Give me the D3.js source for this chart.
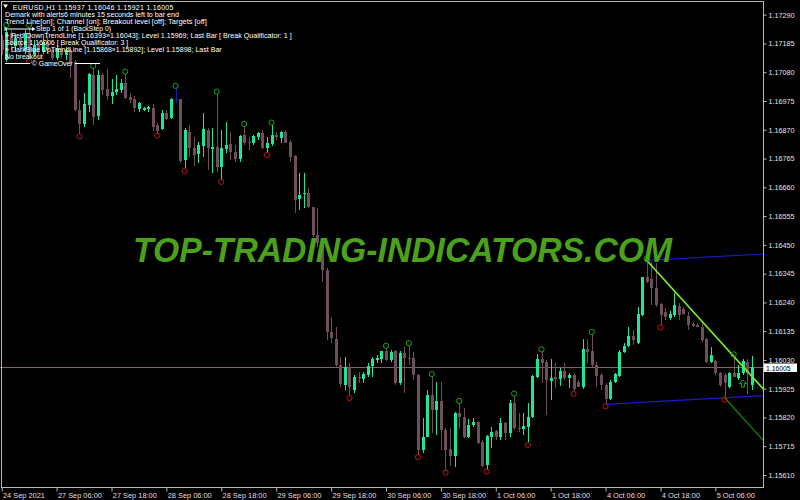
<!DOCTYPE html>
<html>
<head>
<meta charset="utf-8">
<script src="https://cdn.jsdelivr.net/npm/d3@7"></script>
<style>
body { margin: 0; background: #000; }
svg { display: block; }
text { font-family: "Liberation Sans", Arial, sans-serif; }
</style>
</head>
<body>
<script>
var width = 800, height = 500;

// EURUSD H1, bar 0 = 24 Sep 2021 18:00, last bar = 5 Oct 14:00
var open = [
1.17198,1.17125,1.17223,1.17176,1.17205,1.17161,1.17223,1.17143,1.17179,1.17154,
1.17190,1.17161,1.17132,1.17169,1.17143,1.17161,1.17117,1.16942,1.16891,1.16960,
1.17070,1.16920,1.17070,1.17018,1.16994,1.17008,1.17015,1.17042,1.16989,1.16981,
1.16945,1.16942,1.16946,1.16951,1.16887,1.16872,1.16932,1.16912,1.16981,1.16981,
1.16760,1.16863,1.16802,1.16782,1.16811,1.16869,1.16799,1.16806,1.16733,1.16799,
1.16818,1.16790,1.16762,1.16851,1.16827,1.16821,1.16845,1.16857,1.16802,1.16818,
1.16851,1.16839,1.16863,1.16827,1.16774,1.16616,1.16635,1.16640,1.16587,1.16486,
1.16456,1.16358,1.16133,1.16105,1.16011,1.15938,1.16005,1.15920,1.15969,1.15960,
1.15975,1.16008,1.16030,1.16032,1.16063,1.16030,1.16063,1.15945,1.16056,1.16036,
1.16036,1.15975,1.15701,1.15750,1.15902,1.15847,1.15880,1.15774,1.15704,1.15679,
1.15837,1.15823,1.15748,1.15792,1.15804,1.15732,1.15646,1.15750,1.15771,1.15748,
1.15799,1.15764,1.15872,1.15783,1.15777,1.15784,1.15823,1.15969,1.16032,1.16023,
1.15954,1.15967,1.15959,1.15990,1.15963,1.15975,1.15950,1.15932,1.16069,1.16064,
1.16011,1.15975,1.15938,1.15886,1.15950,1.15971,1.16060,1.16081,1.16117,1.16091,
1.16194,1.16332,1.16324,1.16291,1.16234,1.16206,1.16182,1.16194,1.16227,1.16215,
1.16190,1.16161,1.16157,1.16149,1.16105,1.16023,1.16027,1.15981,1.15975,1.15932,
1.15983,1.15963,1.15981,1.16023,1.15937];
var high = [
1.17216,1.17245,1.17234,1.17216,1.17223,1.17234,1.17245,1.17198,1.17190,1.17205,
1.17212,1.17172,1.17179,1.17183,1.17172,1.17169,1.17125,1.16979,1.17005,1.17078,
1.17096,1.17088,1.17077,1.17092,1.17054,1.17070,1.17054,1.17075,1.17003,1.16993,
1.16972,1.16954,1.16957,1.16964,1.16894,1.16942,1.16942,1.16985,1.17023,1.16984,
1.16875,1.16887,1.16845,1.16827,1.16930,1.16875,1.16875,1.17002,1.16869,1.16899,
1.16863,1.16814,1.16851,1.16884,1.16843,1.16851,1.16863,1.16869,1.16845,1.16889,
1.16863,1.16867,1.16869,1.16833,1.16778,1.16713,1.16711,1.16656,1.16589,1.16583,
1.16468,1.16364,1.16188,1.16151,1.16042,1.16042,1.16018,1.15975,1.15987,1.15987,
1.16018,1.16042,1.16048,1.16064,1.16074,1.16066,1.16068,1.16063,1.16077,1.16084,
1.16060,1.15979,1.15817,1.15920,1.15971,1.15950,1.15949,1.15781,1.15780,1.15841,
1.15873,1.15853,1.15813,1.15817,1.15808,1.15738,1.15756,1.15786,1.15774,1.15817,
1.15804,1.15884,1.15900,1.15835,1.15835,1.15872,1.15975,1.16052,1.16061,1.16030,
1.16032,1.16018,1.15999,1.16018,1.15983,1.15979,1.15957,1.16105,1.16105,1.16125,
1.16023,1.15981,1.15945,1.15957,1.15983,1.16066,1.16091,1.16151,1.16139,1.16224,
1.16334,1.16393,1.16387,1.16384,1.16237,1.16218,1.16210,1.16273,1.16237,1.16224,
1.16206,1.16169,1.16164,1.16169,1.16109,1.16076,1.16030,1.15987,1.15983,1.15987,
1.16043,1.16011,1.16033,1.16033,1.16046];
var low = [
1.17143,1.17117,1.17161,1.17154,1.17154,1.17147,1.17128,1.17136,1.17139,1.17147,
1.17147,1.17125,1.17125,1.17132,1.17125,1.17059,1.16939,1.16853,1.16881,1.16936,
1.16887,1.16906,1.16997,1.16979,1.16963,1.16997,1.17005,1.16981,1.16969,1.16936,
1.16936,1.16939,1.16936,1.16866,1.16856,1.16869,1.16906,1.16908,1.16967,1.16748,
1.16727,1.16772,1.16738,1.16748,1.16772,1.16723,1.16711,1.16717,1.16687,1.16784,
1.16760,1.16754,1.16754,1.16814,1.16796,1.16814,1.16833,1.16799,1.16785,1.16811,
1.16833,1.16821,1.16821,1.16754,1.16565,1.16577,1.16583,1.16583,1.16480,1.16443,
1.16316,1.16103,1.16091,1.16005,1.15930,1.15920,1.15898,1.15909,1.15945,1.15947,
1.15969,1.15969,1.16018,1.16018,1.16026,1.16022,1.15938,1.15938,1.15908,1.16011,
1.15957,1.15683,1.15690,1.15748,1.15762,1.15756,1.15701,1.15626,1.15643,1.15639,
1.15780,1.15744,1.15744,1.15786,1.15723,1.15641,1.15630,1.15707,1.15738,1.15738,
1.15738,1.15750,1.15774,1.15768,1.15756,1.15727,1.15817,1.15963,1.15945,1.15829,
1.15884,1.15926,1.15935,1.15957,1.15928,1.15913,1.15930,1.15924,1.16018,1.16005,
1.15932,1.15920,1.15868,1.15884,1.15945,1.15969,1.16054,1.16078,1.16084,1.16088,
1.16190,1.16310,1.16230,1.16224,1.16156,1.16176,1.16176,1.16188,1.16176,1.16194,
1.16139,1.16149,1.16149,1.16096,1.16018,1.16020,1.15975,1.15932,1.15892,1.15926,
1.15967,1.15957,1.15975,1.15906,1.15921];
var close = [
1.17161,1.17227,1.17179,1.17205,1.17169,1.17223,1.17143,1.17179,1.17154,1.17190,
1.17161,1.17132,1.17169,1.17143,1.17161,1.17117,1.16942,1.16891,1.16964,1.17074,
1.16918,1.17070,1.17015,1.16994,1.17009,1.17018,1.17042,1.16985,1.16979,1.16948,
1.16969,1.16951,1.16954,1.16881,1.16867,1.16930,1.16910,1.16982,1.16981,1.16757,
1.16869,1.16802,1.16778,1.16814,1.16872,1.16802,1.16806,1.16733,1.16802,1.16814,
1.16790,1.16762,1.16847,1.16823,1.16821,1.16847,1.16857,1.16802,1.16821,1.16851,
1.16843,1.16863,1.16823,1.16772,1.16614,1.16632,1.16640,1.16587,1.16486,1.16456,
1.16358,1.16133,1.16109,1.16011,1.15942,1.16005,1.15932,1.15967,1.15963,1.15979,
1.16008,1.16032,1.16038,1.16063,1.16030,1.16059,1.15945,1.16054,1.16036,1.16033,
1.15975,1.15701,1.15750,1.15902,1.15847,1.15880,1.15774,1.15701,1.15679,1.15837,
1.15823,1.15750,1.15792,1.15804,1.15726,1.15644,1.15752,1.15768,1.15750,1.15801,
1.15764,1.15874,1.15780,1.15778,1.15789,1.15823,1.15971,1.16032,1.16020,1.15957,
1.15963,1.15959,1.15990,1.15963,1.15975,1.15923,1.15932,1.16069,1.16060,1.16011,
1.15971,1.15938,1.15886,1.15950,1.15977,1.16060,1.16081,1.16117,1.16103,1.16198,
1.16332,1.16316,1.16291,1.16230,1.16194,1.16188,1.16198,1.16230,1.16194,1.16198,
1.16157,1.16154,1.16151,1.16103,1.16023,1.16048,1.15981,1.15938,1.15945,1.15983,
1.15969,1.15983,1.16026,1.15981,1.16005];

// fractal bars (Demark points)
var fractalUp = [1, 6, 20, 27, 38, 47, 53, 59, 84, 89, 94, 100, 112, 118, 129, 141, 160];
var fractalDown = [6, 17, 34, 40, 48, 58, 76, 91, 97, 106, 115, 125, 132, 144, 158];

// trend lines: anchor bars and prices
var downBars = [141, 160], downPrices = [1.16393, 1.16043];
var upBars = [132, 158], upPrices = [1.15868, 1.15892];
var arrowBar = 162;
var bid = 1.16005;

var tickBars = [0, 12, 24, 36, 48, 60, 72, 84, 96, 108, 120, 132, 144, 156];
var tickLabels = ["24 Sep 2021", "27 Sep 06:00", "27 Sep 18:00", "28 Sep 06:00", "28 Sep 18:00",
  "29 Sep 06:00", "29 Sep 18:00", "30 Sep 06:00", "30 Sep 18:00", "1 Oct 06:00",
  "1 Oct 18:00", "4 Oct 06:00", "4 Oct 18:00", "5 Oct 06:00"];
var priceTicks = [1.15610, 1.15715, 1.15820, 1.15925, 1.16030, 1.16135, 1.16240, 1.16345,
  1.16450, 1.16555, 1.16660, 1.16765, 1.16870, 1.16975, 1.17080, 1.17185, 1.17290];

var infoLines = [
  "Demark with alerts6 minutes 15 seconds left to bar end",
  "Trend Line[on]; Channel [on]; Breakout level [off]; Targets [off]",
  "Step 1 of 1 (BackStep 0)",
  "» Red DownTrendLine [1.16393»1.16043]; Level 1.15969; Last Bar [ Break Qualificator: 1 ]",
  "Source 1.16006 [ Break Qualificator: 3 ]",
  "» DarkBlue UpTrendLine [1.15868»1.15892]; Level 1.15898; Last Bar",
  "No breakout"
];

var bull = "#1ce89c", bear = "#6f4e60", doji = "#1020a0";
var plotRight = 763.5, plotBottom = 487.5;

var svg = d3.select("body").append("svg")
    .attr("width", width)
    .attr("height", height);

svg.append("rect").attr("width", width).attr("height", height).attr("fill", "#000");

var x = d3.scaleLinear()
    .domain([0, close.length - 1])
    .range([1.7, 1.7 + (close.length - 1) * 4.575]);

var y = d3.scaleLinear()
    .domain([1.15610, 1.17290])
    .range([475, 14.7]);

svg.append("clipPath").attr("id", "plot")
  .append("rect").attr("x", 0).attr("y", 0).attr("width", plotRight).attr("height", plotBottom);

var plot = svg.append("g").attr("clip-path", "url(#plot)");

// bid line
plot.append("line")
    .attr("x1", 0).attr("x2", plotRight)
    .attr("y1", Math.round(y(bid)) + 0.5).attr("y2", Math.round(y(bid)) + 0.5)
    .attr("stroke", "#7e6472");

// candles
var bars = d3.range(close.length);
function colorOf(i) {
  if (open[i] === close[i]) return doji;
  return close[i] > open[i] ? bull : bear;
}
var cg = plot.append("g").attr("shape-rendering", "crispEdges");
cg.selectAll("line.wick")
  .data(bars)
  .enter().append("line")
    .attr("class", "wick")
    .attr("x1", function(i) { return Math.round(x(i)) + 0.5; })
    .attr("x2", function(i) { return Math.round(x(i)) + 0.5; })
    .attr("y1", function(i) { return y(high[i]); })
    .attr("y2", function(i) { return y(low[i]); })
    .attr("stroke", colorOf);
cg.selectAll("rect.body")
  .data(bars)
  .enter().append("rect")
    .attr("class", "body")
    .attr("x", function(i) { return Math.round(x(i)) - 1; })
    .attr("width", 3)
    .attr("y", function(i) { return y(Math.max(open[i], close[i])); })
    .attr("height", function(i) { return Math.max(1, Math.abs(y(open[i]) - y(close[i]))); })
    .attr("fill", colorOf);

// trend lines
var endBar = x.invert(plotRight);
var downSlope = (downPrices[1] - downPrices[0]) / (downBars[1] - downBars[0]);
var upSlope = (upPrices[1] - upPrices[0]) / (upBars[1] - upBars[0]);

function trend(bar0, price0, slope, color, w) {
  plot.append("line")
    .attr("x1", x(bar0)).attr("y1", y(price0))
    .attr("x2", x(endBar)).attr("y2", y(price0 + slope * (endBar - bar0)))
    .attr("stroke", color).attr("stroke-width", w);
}
trend(upBars[0], upPrices[0], upSlope, "#1a1ac8", 1.2);
trend(downBars[0], downPrices[0], upSlope, "#1a1ac8", 1.2);
trend(upBars[1], upPrices[1], downSlope, "#0c8a0c", 1.2);
trend(downBars[0], downPrices[0], downSlope, "#72f02a", 1.7);

// fractal circles
plot.selectAll("circle.up")
  .data(fractalUp)
  .enter().append("circle")
    .attr("cx", function(i) { return x(i); })
    .attr("cy", function(i) { return y(high[i]) - 2; })
    .attr("r", 2.6)
    .attr("fill", "none")
    .attr("stroke", "#14a814");
plot.selectAll("circle.down")
  .data(fractalDown)
  .enter().append("circle")
    .attr("cx", function(i) { return x(i); })
    .attr("cy", function(i) { return y(low[i]) + 2; })
    .attr("r", 2.6)
    .attr("fill", "none")
    .attr("stroke", "#c01414");

// breakout arrow
var ax = x(arrowBar), ay = y(low[arrowBar]) + 5;
plot.append("path")
    .attr("d", "M" + ax + "," + ay + " l3.5,3.5 h-2 v3.5 h-3 v-3.5 h-2 z")
    .attr("fill", "none")
    .attr("stroke", "#18b018");

// watermark
svg.append("text")
    .attr("x", 133)
    .attr("y", 262)
    .attr("textLength", 539)
    .attr("lengthAdjust", "spacingAndGlyphs")
    .style("font-size", "35px")
    .style("font-weight", "bold")
    .style("font-style", "italic")
    .attr("fill", "#4ba01c")
    .text("TOP-TRADING-INDICATORS.COM");

// frame
svg.append("path")
    .attr("d", "M1.5,1.5 H" + plotRight + " V" + plotBottom + " H1.5 Z")
    .attr("fill", "none")
    .attr("stroke", "#b8b8b8")
    .attr("shape-rendering", "crispEdges");

// price axis
var yAxis = d3.axisRight(y)
    .tickValues(priceTicks)
    .tickFormat(d3.format(".5f"))
    .tickSize(3)
    .tickPadding(2);
var ya = svg.append("g")
    .attr("transform", "translate(" + plotRight + ",0)")
    .call(yAxis);
ya.select(".domain").remove();
ya.selectAll("line").attr("stroke", "#b8b8b8");
ya.selectAll("text").attr("fill", "#e4e4e4").style("font-size", "7.2px");

// time axis
var xAxis = d3.axisBottom(x)
    .tickValues(tickBars)
    .tickFormat(function(d, i) { return tickLabels[i]; })
    .tickSize(4)
    .tickPadding(1);
var xa = svg.append("g")
    .attr("transform", "translate(0," + plotBottom + ")")
    .call(xAxis);
xa.select(".domain").remove();
xa.selectAll("line").attr("stroke", "#b8b8b8");
xa.selectAll("text")
    .attr("fill", "#e4dce0")
    .style("font-size", "7.4px")
    .style("text-anchor", "start")
    .attr("dx", "0.8");

// bid price label
svg.append("rect")
    .attr("x", 764).attr("y", Math.round(y(bid)) - 3.5)
    .attr("width", 33).attr("height", 8.5)
    .attr("fill", "#fff");
svg.append("text")
    .attr("x", 766).attr("y", Math.round(y(bid)) + 3.8)
    .style("font-size", "6.8px")
    .attr("fill", "#000")
    .text(d3.format(".5f")(bid));

// info text top-left
var info = svg.append("g").attr("fill", "#fff").style("font-size", "7px");
info.append("path").attr("d", "M3,4.5 h5 l-2.5,3.5 z").attr("fill", "#fff");
info.append("text").attr("x", 12.7).attr("y", 9.5).attr("textLength", 160.7)
    .text("EURUSD,H1  " + [open[164], high[164], low[164], close[164]].map(d3.format(".5f")).join(" "));

var lineY = [17, 24.3, 31.4, 38.3, 45.3, 52.4, 59.3];
var lineX = [5, 5, 36, 5, 5, 5, 5];
var lineW = [174, 201.7, 75, 286.7, 123.3, 216.7, 37.7];
infoLines.forEach(function(t, k) {
  info.append("text")
      .attr("x", lineX[k]).attr("y", lineY[k])
      .attr("textLength", lineW[k])
      .attr("lengthAdjust", "spacingAndGlyphs")
      .text(t);
});
// step arrow
info.append("line").attr("x1", 5).attr("x2", 33).attr("y1", 29).attr("y2", 29)
    .attr("stroke", "#fff");
info.append("line").attr("x1", 5).attr("x2", 5).attr("y1", 27).attr("y2", 31)
    .attr("stroke", "#fff");
info.append("path").attr("d", "M32,27 l3.5,2 l-3.5,2 z");
// copyright line
info.append("line").attr("x1", 5).attr("x2", 30).attr("y1", 63.5).attr("y2", 63.5)
    .attr("stroke", "#fff");
info.append("line").attr("x1", 75).attr("x2", 100).attr("y1", 63.5).attr("y2", 63.5)
    .attr("stroke", "#fff");
info.append("text").attr("x", 31.7).attr("y", 66).attr("textLength", 41)
    .text("© GameOver");
</script>
</body>
</html>
